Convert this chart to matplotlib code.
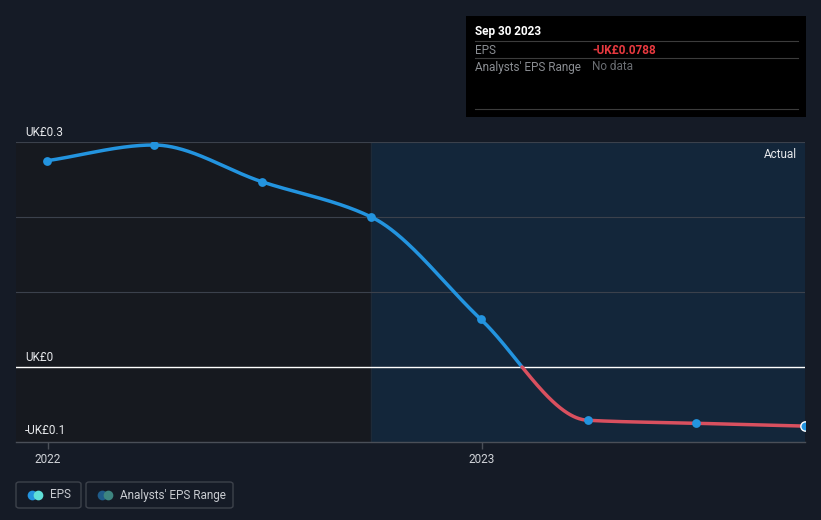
import matplotlib
matplotlib.use("Agg")
import matplotlib.pyplot as plt
import matplotlib.dates as mdates
import numpy as np
import pandas as pd
from matplotlib.patches import FancyBboxPatch, Rectangle
from matplotlib.lines import Line2D

plt.rcParams["font.family"] = ["Roboto", "DejaVu Sans"]

# EPS data (UK£), quarterly
dates = ["2021-12-31", "2022-03-31", "2022-06-30", "2022-09-30",
         "2022-12-31", "2023-03-31", "2023-06-30", "2023-09-30"]
eps = [0.275, 0.296, 0.247, 0.200, 0.064, -0.071, -0.075, -0.0788]
forecast_start = "2022-09-30"
ytick_vals = [-0.1, 0, 0.3]
ytick_labels = ["-UK£0.1", "UK£0", "UK£0.3"]
grid_vals = [0.1, 0.2, 0.3]
xtick_years = ["2022", "2023"]

BG = "#151b26"
BLUE = "#2394df"
RED = "#d9505f"

x = mdates.date2num(pd.to_datetime(dates))
y = np.array(eps)


def pchip(xs, ys, xn):
    # monotone cubic interpolation (Fritsch-Carlson)
    h = np.diff(xs)
    d = np.diff(ys) / h
    m = np.zeros_like(ys)
    for k in range(1, len(xs) - 1):
        if d[k - 1] * d[k] > 0:
            w1 = 2 * h[k] + h[k - 1]
            w2 = h[k] + 2 * h[k - 1]
            m[k] = (w1 + w2) / (w1 / d[k - 1] + w2 / d[k])
    m[0] = d[0]
    m[-1] = d[-1]
    idx = np.clip(np.searchsorted(xs, xn) - 1, 0, len(xs) - 2)
    t = (xn - xs[idx]) / h[idx]
    h00 = 2 * t**3 - 3 * t**2 + 1
    h10 = t**3 - 2 * t**2 + t
    h01 = -2 * t**3 + 3 * t**2
    h11 = t**3 - t**2
    return (h00 * ys[idx] + h10 * h[idx] * m[idx]
            + h01 * ys[idx + 1] + h11 * h[idx] * m[idx + 1])


xs = np.linspace(x[0], x[-1], 800)
ys = pchip(x, y, xs)
# split at zero crossing
i0 = np.where(np.diff(np.sign(ys)) != 0)[0][0]
xz = xs[i0] - ys[i0] * (xs[i0 + 1] - xs[i0]) / (ys[i0 + 1] - ys[i0])
pos_x = np.append(xs[:i0 + 1], xz)
pos_y = np.append(ys[:i0 + 1], 0)
neg_x = np.insert(xs[i0 + 1:], 0, xz)
neg_y = np.insert(ys[i0 + 1:], 0, 0)

fig = plt.figure(figsize=(8.21, 5.2), dpi=100, facecolor=BG)
W, H = 821, 520
ax = fig.add_axes([16 / W, (H - 442) / H, (805 - 16) / W, 300 / H])
ax.set_facecolor("#16191f")

x_left = mdates.date2num(pd.Timestamp("2022-01-01")) - 32 / 434 * 365
ax.set_xlim(x_left, x[-1])
ax.set_ylim(-0.1, 0.3)

fs = mdates.date2num(pd.Timestamp(forecast_start))
ax.axvspan(fs, x[-1], color="#13263a", zorder=0)
ax.axvline(fs, color="#1e2a38", lw=0.8, zorder=1)

for g in grid_vals:
    ax.axhline(g, color="#3b414c", lw=0.8, zorder=1)
ax.axhline(0, color="white", lw=1.0, zorder=2)

ax.plot(pos_x, pos_y, color=BLUE, lw=2.5, zorder=3, solid_capstyle="round")
ax.plot(neg_x, neg_y, color=RED, lw=2.5, zorder=3, solid_capstyle="round")
ax.scatter(x[:-1], y[:-1], s=40, color=BLUE, zorder=4, linewidths=0)
ax.scatter(x[-1:], y[-1:], s=45, color=BLUE, edgecolors="white",
           linewidths=1.0, zorder=5)

for sp in ["top", "right", "left"]:
    ax.spines[sp].set_visible(False)
ax.spines["bottom"].set_color("#4a4f58")
ax.spines["bottom"].set_linewidth(1.0)
ax.set_yticks([])
ax.set_xticks(mdates.date2num(pd.to_datetime([f"{yr}-01-01" for yr in xtick_years])))
ax.set_xticklabels(xtick_years, color="#d0d3d8", fontsize=8.5)
ax.tick_params(axis="x", colors="#4a4f58", length=5, width=1, pad=3,
               labelcolor="#d0d3d8")

for v, lab in zip(ytick_vals, ytick_labels):
    off = 0.007 if v < 0 else 0.004
    ax.text(9 / 789, v + off, lab, transform=ax.get_yaxis_transform(),
            color="#e6e8eb", fontsize=8.5, va="bottom", ha="left")

ax.text(0.99, 0.96, "Actual", transform=ax.transAxes, color="#e6e8eb",
        fontsize=8.5, ha="right", va="center")

# tooltip box
fig.patches.append(Rectangle((466 / W, 1 - 117 / H), 340 / W, 101 / H,
                             transform=fig.transFigure, facecolor="black",
                             edgecolor="none", zorder=5))
for yy in [41, 58, 109]:
    fig.lines.append(Line2D([475 / W, 798 / W], [1 - yy / H] * 2,
                            transform=fig.transFigure, color="#3c3c3c",
                            lw=0.8, zorder=6))
fig.text(475 / W, 1 - 31 / H, "Sep 30 2023", color="white", fontsize=8.5,
         fontweight="bold", va="center", zorder=7)
fig.text(475 / W, 1 - 50 / H, "EPS", color="#8a8d92", fontsize=8.5,
         va="center", zorder=7)
fig.text(592 / W, 1 - 50 / H, "-UK£0.0788", color="#e8393f", fontsize=8.5,
         fontweight="bold", va="center", zorder=7)
fig.text(475 / W, 1 - 67 / H, "Analysts' EPS Range", color="#8a8d92",
         fontsize=8.5, va="center", zorder=7)
fig.text(592 / W, 1 - 67 / H, "No data", color="#6a6d72", fontsize=8.5,
         va="center", zorder=7)

# legend
for (x0, x1), label, c1, c2 in [((16, 81), "EPS", "#2394df", "#5fe0d8"),
                                ((86, 233), "Analysts' EPS Range", "#1f5c8a", "#3d8580")]:
    fig.patches.append(FancyBboxPatch((x0 / W, 1 - 508 / H), (x1 - x0) / W, 26 / H,
                                      boxstyle="round,pad=0,rounding_size=0.004",
                                      transform=fig.transFigure, facecolor="none",
                                      edgecolor="#3d424b", lw=1.0))
    fig.lines.append(Line2D([(x0 + 16) / W], [1 - 495 / H], marker="o", ms=7,
                            color=c1, mec="none", transform=fig.transFigure))
    fig.lines.append(Line2D([(x0 + 22) / W], [1 - 495 / H], marker="o", ms=7,
                            color=c2, mec="none", transform=fig.transFigure))
    fig.text((x0 + 34) / W, 1 - 495 / H, label, color="#c8cbd0", fontsize=8.5,
             va="center")

fig.savefig("out.png", dpi=100, facecolor=BG)
